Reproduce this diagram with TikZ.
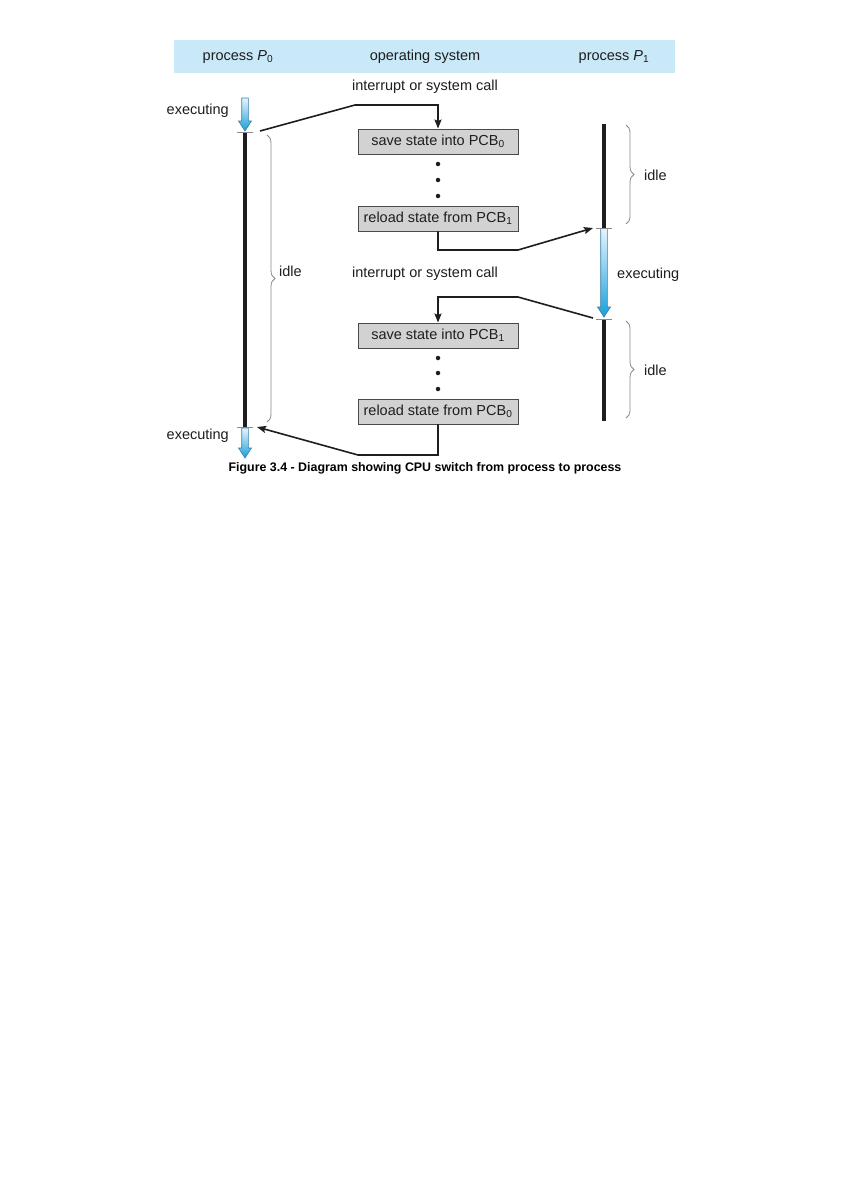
\documentclass[tikz,border=0pt]{standalone}
\usepackage{fontspec}
\setmainfont{Liberation Sans}
\usetikzlibrary{arrows.meta,decorations.pathreplacing}
\definecolor{bandblue}{HTML}{C9E8F8}
\definecolor{boxfill}{HTML}{D2D2D2}
\definecolor{boxedge}{HTML}{4A4A4A}
\definecolor{txt}{HTML}{1E1E1E}
\definecolor{arrowtop}{HTML}{E6F4FC}
\definecolor{arrowblue}{HTML}{1A9FDA}
\definecolor{arrowedge}{HTML}{3B7FA8}
\definecolor{bracegray}{HTML}{8A8A8A}
\newcommand\cpuarrow[3]{%
  \shadedraw[top color=arrowtop, bottom color=arrowblue, draw=arrowedge, line width=0.6pt]
    (#1-3.3,#2) -- (#1+3.3,#2) -- (#1+3.3,#3-10) -- (#1+6.5,#3-10) -- (#1,#3) -- (#1-6.5,#3-10) -- (#1-3.3,#3-10) -- cycle;}
\begin{document}
\begin{tikzpicture}[x=1pt,y=-1pt,
  lbl/.style={font=\fontsize{14.5}{17}\selectfont, text=txt, inner sep=0pt},
  captext/.style={font=\fontsize{12.4}{15}\selectfont\bfseries, text=black, inner sep=0pt},
  pcbbox/.style={lbl, draw=boxedge, fill=boxfill, minimum width=160pt, minimum height=25pt, line width=0.9pt},
  conn/.style={draw=txt, line width=1.6pt, -{Stealth[length=9pt,width=7pt,inset=1.5pt]}},
  timeline/.style={draw=txt, line width=4pt},
  tickmark/.style={draw=bracegray, line width=0.8pt},
  idlebrace/.style={draw=bracegray, line width=0.8pt, decorate, decoration={brace, amplitude=8pt}},
  dot/.style={circle, fill=txt, inner sep=0pt, minimum size=4.5pt}]
\useasboundingbox (0,0) rectangle (846,1197);
\fill[white] (0,0) rectangle (846,1197);
% header band
\fill[bandblue] (174,40) rectangle (675,73);
\node[lbl] (hp0) at (238,57) {process \textit{P}\textsubscript{0}};
\node[lbl] (hos) at (425,57) {operating system};
\node[lbl] (hp1) at (614,57) {process \textit{P}\textsubscript{1}};
% OS boxes
\node[lbl] (int1) at (425,87) {interrupt or system call};
\node[pcbbox] (s0) at (438,141.5) {save state into PCB\textsubscript{0}};
\node[dot] (d1) at (438,164) {};
\node[dot] (d2) at (438,180) {};
\node[dot] (d3) at (438,196) {};
\node[pcbbox] (r1) at (438,218.5) {reload state from PCB\textsubscript{1}};
\node[lbl] (int2) at (425,274) {interrupt or system call};
\node[pcbbox] (s1) at (438,335.5) {save state into PCB\textsubscript{1}};
\node[dot] (d4) at (438,358) {};
\node[dot] (d5) at (438,373) {};
\node[dot] (d6) at (438,389) {};
\node[pcbbox] (r0) at (438,411.5) {reload state from PCB\textsubscript{0}};
% process P0 timeline
\cpuarrow{245}{98}{131}
\draw[timeline] (245,132) -- (245,427);
\cpuarrow{245}{428}{458}
\draw[tickmark] (237,132) -- (253,132);
\draw[tickmark] (237,427.5) -- (253,427.5);
\node[lbl, anchor=east] (ex0a) at (229,111) {executing};
\node[lbl, anchor=east] (ex0b) at (229,436) {executing};
\draw[idlebrace] (267,135) -- (267,422);
\node[lbl, anchor=west] (idle0) at (279,271) {idle};
% process P1 timeline
\draw[timeline] (604,124) -- (604,228);
\cpuarrow{604}{228.5}{317}
\draw[timeline] (604,319) -- (604,421);
\draw[tickmark] (596,228) -- (612,228);
\draw[tickmark] (596,319) -- (612,319);
\node[lbl, anchor=west] (ex1) at (617,275) {executing};
\draw[idlebrace] (626,125) -- (626,224);
\node[lbl, anchor=west] (idle1a) at (644,175) {idle};
\draw[idlebrace] (626,321) -- (626,418);
\node[lbl, anchor=west] (idle1b) at (644,370) {idle};
% connector points
\coordinate (p0out) at (260,131);
\coordinate (k1) at (355,105);
\coordinate (k2) at (518,250);
\coordinate (p1in) at (593,228);
\coordinate (p1out) at (593,318);
\coordinate (k3) at (518,297);
\coordinate (k4) at (358,455);
\coordinate (p0in) at (257,427);
\draw[conn] (p0out) -- (k1) -| (s0.north);
\draw[conn] (r1.south) |- (k2) -- (p1in);
\draw[conn] (p1out) -- (k3) -| (s1.north);
\draw[conn] (r0.south) |- (k4) -- (p0in);
% caption
\node[captext] (caption) at (425,468) {Figure 3.4 - Diagram showing CPU switch from process to process};
\end{tikzpicture}
\end{document}
